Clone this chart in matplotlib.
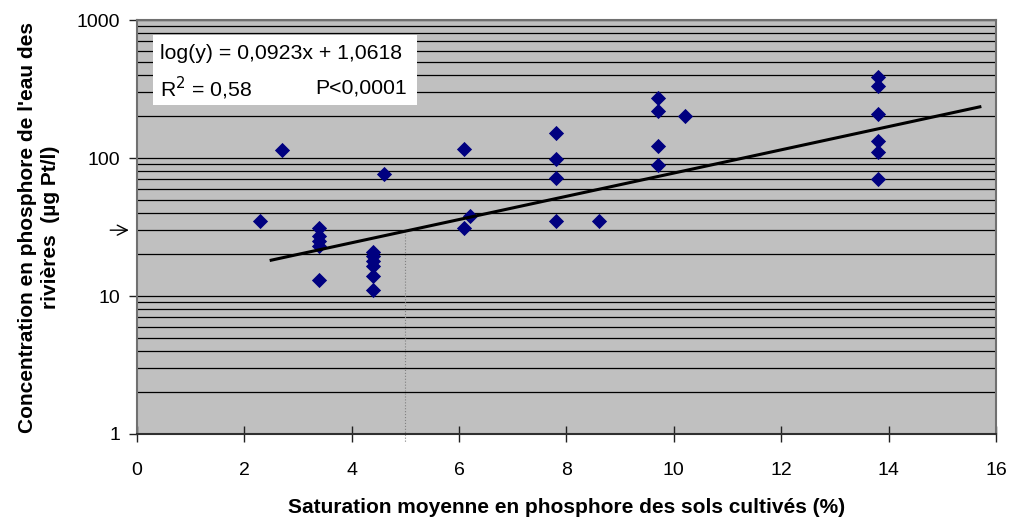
import numpy as np
import matplotlib.pyplot as plt
from matplotlib.ticker import FixedLocator, NullFormatter

plt.rcParams['font.family'] = ['Liberation Sans', 'DejaVu Sans']

# saturation (%) and river phosphorus concentration (ug Pt/l)
sat = [2.3, 2.7,
       3.4, 3.4, 3.4, 3.4, 3.4,
       4.4, 4.4, 4.4, 4.4, 4.4, 4.4,
       4.6, 6.1, 6.1, 6.2,
       7.8, 7.8, 7.8, 7.8, 8.6,
       9.7, 9.7, 9.7, 9.7, 10.2,
       13.8, 13.8, 13.8, 13.8, 13.8, 13.8]
conc = [35, 114,
        31, 27, 25, 23, 13,
        21, 19.5, 18, 16.5, 14, 11,
        76, 116, 31, 38,
        153, 99, 72, 35, 35,
        273, 220, 122, 89, 201,
        384, 334, 207, 133, 111, 70]

# trend line as drawn (log10 scale)
trend_slope = 0.0842
trend_intercept = 1.049
trend_x = [2.5, 15.7]
threshold_x = 5
threshold_y = 30

xticks = [0, 2, 4, 6, 8, 10, 12, 14, 16]
yticks = [1, 10, 100, 1000]

fig = plt.figure(figsize=(10.1, 5.2), dpi=100)
ax = fig.add_axes([0.1356, 0.1654, 0.8505, 0.7961])
ax.set_facecolor('#C0C0C0')

# horizontal gridlines at every 1..9 of each decade
minor = [m * 10 ** d for d in range(0, 3) for m in range(2, 10)]
for v in yticks + minor:
    ax.axhline(v, color='black', lw=0.9, zorder=1)

ax.scatter(sat, conc, marker='D', s=60, color='#000080', zorder=3, linewidths=0)

tx = np.array(trend_x)
ax.plot(tx, 10 ** (trend_intercept + trend_slope * tx), color='black', lw=2.2, zorder=4)

# dotted threshold line at 5 %
ax.plot([threshold_x, threshold_x],
        [10 ** (trend_intercept + trend_slope * threshold_x), 0.88],
        color='#808080', lw=0.8, ls=':', zorder=2, clip_on=False)

ax.annotate('', xy=(-0.1, threshold_y), xytext=(-0.55, threshold_y),
            xycoords='data', arrowprops=dict(arrowstyle='->', lw=1, color='black',
                                             mutation_scale=18),
            annotation_clip=False)

ax.set_yscale('log')
ax.set_ylim(1, 1000)
ax.set_xlim(0, 16)
ax.yaxis.set_major_locator(FixedLocator(yticks))
ax.yaxis.set_minor_locator(FixedLocator([]))
ax.yaxis.set_minor_formatter(NullFormatter())
ax.set_yticklabels([str(v) for v in yticks])
ax.set_xticks(xticks)
ax.tick_params(axis='both', width=1, labelsize=14, color='#202020')
ax.tick_params(axis='y', direction='out', length=6, pad=6)
ax.tick_params(axis='x', direction='inout', length=12, pad=14)
for s in ax.spines.values():
    s.set_color('#707070')
    s.set_linewidth(1.5)
ax.spines['bottom'].set_color('#303030')

ax.set_xlabel('Saturation moyenne en phosphore des sols cultivés (%)',
              fontsize=15, fontweight='bold', labelpad=14)
ax.set_ylabel("Concentration en phosphore de l'eau des\nrivières  (µg Pt/l)",
              fontsize=15, fontweight='bold', labelpad=12, linespacing=1.3)

# equation box
ax.add_patch(plt.Rectangle((0.0186, 0.7947), 0.307, 0.169, transform=ax.transAxes,
                           facecolor='white', edgecolor='none', zorder=5))
ax.text(0.027, 0.918, 'log(y) = 0,0923x + 1,0618', transform=ax.transAxes,
        fontsize=15.3, va='center', zorder=6)
ax.text(0.027, 0.836, 'R$^2$ = 0,58', transform=ax.transAxes,
        fontsize=15.3, va='center', zorder=6)
ax.text(0.314, 0.836, 'P<0,0001', transform=ax.transAxes,
        fontsize=15.3, va='center', ha='right', zorder=6)

fig.savefig('out.png', dpi=100)
